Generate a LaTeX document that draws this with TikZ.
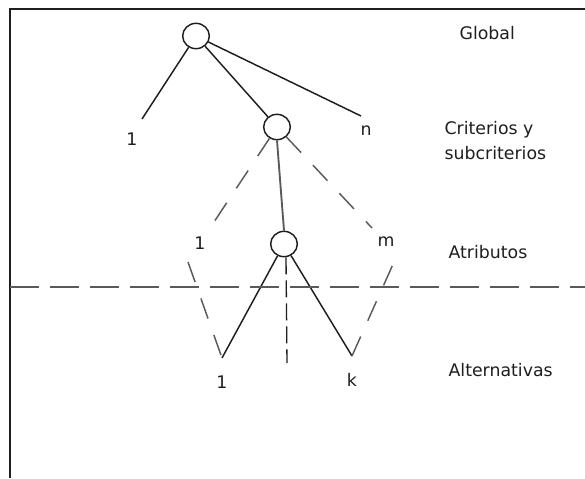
\documentclass[tikz,border=0pt]{standalone}
\usepackage{fontspec}
\setmainfont{DejaVu Sans}
\usetikzlibrary{positioning,shapes.geometric}
\definecolor{TreeInk}{HTML}{1E1E1E}
\definecolor{TreeGray}{HTML}{5A5A5A}

\begin{document}
\begin{tikzpicture}[
  x=0.75pt,y=-0.75pt,
  node distance=12pt,
  knot/.style={draw=TreeInk,ellipse,line width=1.1pt,minimum width=20pt,minimum height=19pt,inner sep=0pt},
  lbl/.style={font=\fontsize{13}{18.75}\selectfont,text=TreeInk,inner sep=1pt},
  tier/.style={lbl,anchor=west,align=left},
  link/.style={draw=TreeInk,line width=1.1pt},
  gap/.style={draw=TreeGray,line width=1.1pt,dash pattern=on 16pt off 13pt},
  cut/.style={draw=TreeGray,line width=1.5pt,dash pattern=on 21.75pt off 8.25pt}
]
\useasboundingbox (0,0) rectangle (585,478);
\draw[TreeInk,line width=1.5pt] (10,478) -- (10,9) -- (585,9);
% levels
\node[tier] (global) at (458,33) {Global};
\node[tier] (crit) at (443,141) {Criterios y\\subcriterios};
\node[tier] (attr) at (447,252) {Atributos};
\node[tier] (alt) at (447,370) {Alternativas};
% tree
\node[knot] (top) at (196,36) {};
\node[knot] (mid) at (277,127) {};
\node[knot] (low) at (284,244) {};
\node[lbl] (c1) at (132,139) {1};
\node[lbl] (cn) at (366,131) {n};
\node[lbl] (a1) at (200,243) {1};
\node[lbl] (am) at (386,242) {m};
\coordinate (vl) at (222,358);
\coordinate (vr) at (352,356);
\coordinate (vm) at (287,363);
\node[lbl,below=of vl] (k1) {1};
\node[lbl,below=of vr] (kk) {k};
\draw[link] (top) -- (142,119) coordinate (e1);
\draw[link] (top) -- (mid);
\draw[link] (top) -- (361,116) coordinate (en);
\draw[draw=TreeGray,line width=1.4pt] (mid.south) -- (low.north);
\draw[gap] (mid) -- (210,228) coordinate (d1);
\draw[gap] (mid) -- (372,228) coordinate (dm);
\draw[gap] (188,262) coordinate (u1) -- (vl);
\draw[link] (vl) -- (low);
\draw[link] (low) -- (vr);
\draw[gap] (vr) -- (394,262) coordinate (um);
\draw[draw=TreeInk,line width=1pt,dash pattern=on 12.75pt off 4.5pt] (low.south) ++(2,0) -- (vm);
\draw[cut] (10,287) -- (585,287);
\end{tikzpicture}
\end{document}
